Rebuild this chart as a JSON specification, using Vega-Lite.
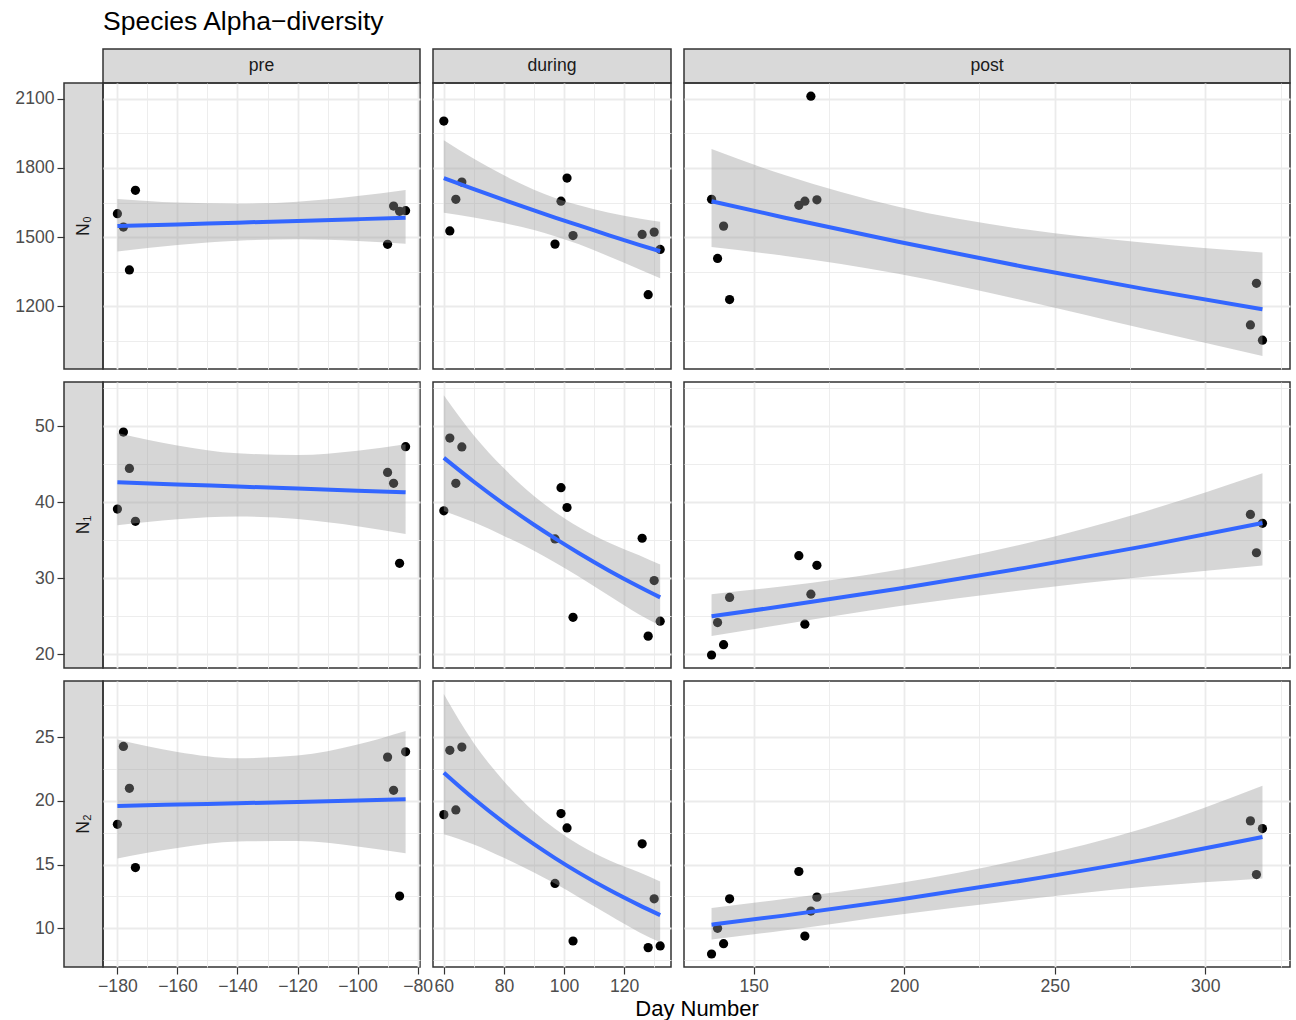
{
  "$schema": "https://vega.github.io/schema/vega-lite/v6.json",
  "padding": {"left": 14, "top": 9, "right": 5, "bottom": 5},
  "title": {"text": "Species Alpha−diversity", "anchor": "start", "frame": "group", "dx": 39, "offset": 11, "fontSize": 26.5, "fontWeight": "normal", "font": "Liberation Sans", "color": "#000000"},
  "config": {
    "font": "Liberation Sans",
    "view": {"stroke": "#333333", "strokeWidth": 1.5},
    "axis": {"labelFont": "Liberation Sans", "labelFontSize": 17.6, "labelColor": "#4d4d4d", "titleFont": "Liberation Sans", "titleFontSize": 22, "titleFontWeight": "normal", "titleColor": "#000000"}
  },
  "datasets": {
    "points": [
      {"period": "pre", "idx": "N0", "day": -180, "value": 1602}, {"period": "pre", "idx": "N0", "day": -178, "value": 1544}, {"period": "pre", "idx": "N0", "day": -176, "value": 1358}, {"period": "pre", "idx": "N0", "day": -174, "value": 1703},
      {"period": "pre", "idx": "N0", "day": -90, "value": 1469}, {"period": "pre", "idx": "N0", "day": -88, "value": 1635}, {"period": "pre", "idx": "N0", "day": -86, "value": 1612}, {"period": "pre", "idx": "N0", "day": -84, "value": 1615},
      {"period": "during", "idx": "N0", "day": 60, "value": 2003}, {"period": "during", "idx": "N0", "day": 62, "value": 1527}, {"period": "during", "idx": "N0", "day": 64, "value": 1664}, {"period": "during", "idx": "N0", "day": 66, "value": 1739},
      {"period": "during", "idx": "N0", "day": 97, "value": 1470}, {"period": "during", "idx": "N0", "day": 99, "value": 1656}, {"period": "during", "idx": "N0", "day": 101, "value": 1756}, {"period": "during", "idx": "N0", "day": 103, "value": 1507},
      {"period": "during", "idx": "N0", "day": 126, "value": 1512}, {"period": "during", "idx": "N0", "day": 128, "value": 1251}, {"period": "during", "idx": "N0", "day": 130, "value": 1522}, {"period": "during", "idx": "N0", "day": 132, "value": 1447},
      {"period": "post", "idx": "N0", "day": 136, "value": 1664}, {"period": "post", "idx": "N0", "day": 138, "value": 1408}, {"period": "post", "idx": "N0", "day": 140, "value": 1548}, {"period": "post", "idx": "N0", "day": 142, "value": 1230},
      {"period": "post", "idx": "N0", "day": 165, "value": 1638}, {"period": "post", "idx": "N0", "day": 167, "value": 1656}, {"period": "post", "idx": "N0", "day": 169, "value": 2111}, {"period": "post", "idx": "N0", "day": 171, "value": 1662},
      {"period": "post", "idx": "N0", "day": 315, "value": 1120}, {"period": "post", "idx": "N0", "day": 317, "value": 1300}, {"period": "post", "idx": "N0", "day": 319, "value": 1054},

      {"period": "pre", "idx": "N1", "day": -180, "value": 39.09}, {"period": "pre", "idx": "N1", "day": -178, "value": 49.22}, {"period": "pre", "idx": "N1", "day": -176, "value": 44.43}, {"period": "pre", "idx": "N1", "day": -174, "value": 37.48},
      {"period": "pre", "idx": "N1", "day": -90, "value": 43.91}, {"period": "pre", "idx": "N1", "day": -88, "value": 42.48}, {"period": "pre", "idx": "N1", "day": -86, "value": 31.96}, {"period": "pre", "idx": "N1", "day": -84, "value": 47.3},
      {"period": "during", "idx": "N1", "day": 60, "value": 38.87}, {"period": "during", "idx": "N1", "day": 62, "value": 48.43}, {"period": "during", "idx": "N1", "day": 64, "value": 42.48}, {"period": "during", "idx": "N1", "day": 66, "value": 47.26},
      {"period": "during", "idx": "N1", "day": 97, "value": 35.17}, {"period": "during", "idx": "N1", "day": 99, "value": 41.91}, {"period": "during", "idx": "N1", "day": 101, "value": 39.3}, {"period": "during", "idx": "N1", "day": 103, "value": 24.87},
      {"period": "during", "idx": "N1", "day": 126, "value": 35.26}, {"period": "during", "idx": "N1", "day": 128, "value": 22.39}, {"period": "during", "idx": "N1", "day": 130, "value": 29.7}, {"period": "during", "idx": "N1", "day": 132, "value": 24.35},
      {"period": "post", "idx": "N1", "day": 136, "value": 19.91}, {"period": "post", "idx": "N1", "day": 138, "value": 24.17}, {"period": "post", "idx": "N1", "day": 140, "value": 21.26}, {"period": "post", "idx": "N1", "day": 142, "value": 27.48},
      {"period": "post", "idx": "N1", "day": 165, "value": 32.96}, {"period": "post", "idx": "N1", "day": 167, "value": 23.96}, {"period": "post", "idx": "N1", "day": 169, "value": 27.91}, {"period": "post", "idx": "N1", "day": 171, "value": 31.7},
      {"period": "post", "idx": "N1", "day": 315, "value": 38.39}, {"period": "post", "idx": "N1", "day": 317, "value": 33.35}, {"period": "post", "idx": "N1", "day": 319, "value": 37.22},

      {"period": "pre", "idx": "N2", "day": -180, "value": 18.16}, {"period": "pre", "idx": "N2", "day": -178, "value": 24.27}, {"period": "pre", "idx": "N2", "day": -176, "value": 20.98}, {"period": "pre", "idx": "N2", "day": -174, "value": 14.77},
      {"period": "pre", "idx": "N2", "day": -90, "value": 23.43}, {"period": "pre", "idx": "N2", "day": -88, "value": 20.83}, {"period": "pre", "idx": "N2", "day": -86, "value": 12.53}, {"period": "pre", "idx": "N2", "day": -84, "value": 23.85},
      {"period": "during", "idx": "N2", "day": 60, "value": 18.92}, {"period": "during", "idx": "N2", "day": 62, "value": 23.96}, {"period": "during", "idx": "N2", "day": 64, "value": 19.29}, {"period": "during", "idx": "N2", "day": 66, "value": 24.22},
      {"period": "during", "idx": "N2", "day": 97, "value": 13.52}, {"period": "during", "idx": "N2", "day": 99, "value": 19.0}, {"period": "during", "idx": "N2", "day": 101, "value": 17.88}, {"period": "during", "idx": "N2", "day": 103, "value": 9.01},
      {"period": "during", "idx": "N2", "day": 126, "value": 16.63}, {"period": "during", "idx": "N2", "day": 128, "value": 8.49}, {"period": "during", "idx": "N2", "day": 130, "value": 12.32}, {"period": "during", "idx": "N2", "day": 132, "value": 8.62},
      {"period": "post", "idx": "N2", "day": 136, "value": 7.99}, {"period": "post", "idx": "N2", "day": 138, "value": 10.0}, {"period": "post", "idx": "N2", "day": 140, "value": 8.8}, {"period": "post", "idx": "N2", "day": 142, "value": 12.32},
      {"period": "post", "idx": "N2", "day": 165, "value": 14.46}, {"period": "post", "idx": "N2", "day": 167, "value": 9.4}, {"period": "post", "idx": "N2", "day": 169, "value": 11.36}, {"period": "post", "idx": "N2", "day": 171, "value": 12.45},
      {"period": "post", "idx": "N2", "day": 315, "value": 18.43}, {"period": "post", "idx": "N2", "day": 317, "value": 14.22}, {"period": "post", "idx": "N2", "day": 319, "value": 17.83}
    ],
    "smooth": [
      {"period": "pre", "idx": "N0", "day": -180, "fit": 1548, "lo": 1438, "hi": 1666}, {"period": "pre", "idx": "N0", "day": -160, "fit": 1555.5, "lo": 1466, "hi": 1650}, {"period": "pre", "idx": "N0", "day": -140, "fit": 1563, "lo": 1485, "hi": 1645},
      {"period": "pre", "idx": "N0", "day": -120, "fit": 1570.5, "lo": 1491, "hi": 1654}, {"period": "pre", "idx": "N0", "day": -100, "fit": 1578, "lo": 1484, "hi": 1678}, {"period": "pre", "idx": "N0", "day": -84, "fit": 1584, "lo": 1472, "hi": 1705},
      {"period": "during", "idx": "N0", "day": 60, "fit": 1756, "lo": 1606, "hi": 1920}, {"period": "during", "idx": "N0", "day": 70, "fit": 1708, "lo": 1585, "hi": 1840}, {"period": "during", "idx": "N0", "day": 80, "fit": 1661.5, "lo": 1561, "hi": 1768},
      {"period": "during", "idx": "N0", "day": 90, "fit": 1616, "lo": 1531, "hi": 1706}, {"period": "during", "idx": "N0", "day": 97, "fit": 1585, "lo": 1504, "hi": 1670}, {"period": "during", "idx": "N0", "day": 105, "fit": 1551, "lo": 1469, "hi": 1638},
      {"period": "during", "idx": "N0", "day": 115, "fit": 1508, "lo": 1416.5, "hi": 1606}, {"period": "during", "idx": "N0", "day": 125, "fit": 1467, "lo": 1361, "hi": 1581}, {"period": "during", "idx": "N0", "day": 132, "fit": 1439, "lo": 1322, "hi": 1567},
      {"period": "post", "idx": "N0", "day": 136, "fit": 1656, "lo": 1457, "hi": 1882}, {"period": "post", "idx": "N0", "day": 160, "fit": 1585.5, "lo": 1420, "hi": 1770}, {"period": "post", "idx": "N0", "day": 198, "fit": 1480, "lo": 1342, "hi": 1632},
      {"period": "post", "idx": "N0", "day": 240, "fit": 1371, "lo": 1225, "hi": 1534}, {"period": "post", "idx": "N0", "day": 280, "fit": 1275, "lo": 1102, "hi": 1476}, {"period": "post", "idx": "N0", "day": 319, "fit": 1188, "lo": 985, "hi": 1434},

      {"period": "pre", "idx": "N1", "day": -180, "fit": 42.61, "lo": 36.97, "hi": 49.11}, {"period": "pre", "idx": "N1", "day": -160, "fit": 42.33, "lo": 37.75, "hi": 47.46}, {"period": "pre", "idx": "N1", "day": -140, "fit": 42.06, "lo": 38.11, "hi": 46.42},
      {"period": "pre", "idx": "N1", "day": -120, "fit": 41.79, "lo": 37.79, "hi": 46.21}, {"period": "pre", "idx": "N1", "day": -100, "fit": 41.51, "lo": 36.84, "hi": 46.77}, {"period": "pre", "idx": "N1", "day": -84, "fit": 41.3, "lo": 35.83, "hi": 47.6},
      {"period": "during", "idx": "N1", "day": 60, "fit": 45.83, "lo": 38.85, "hi": 54.06}, {"period": "during", "idx": "N1", "day": 70, "fit": 42.69, "lo": 37.36, "hi": 48.78}, {"period": "during", "idx": "N1", "day": 80, "fit": 39.76, "lo": 35.57, "hi": 44.45},
      {"period": "during", "idx": "N1", "day": 90, "fit": 37.03, "lo": 33.6, "hi": 40.81}, {"period": "during", "idx": "N1", "day": 97, "fit": 35.24, "lo": 32.08, "hi": 38.71}, {"period": "during", "idx": "N1", "day": 105, "fit": 33.29, "lo": 30.19, "hi": 36.71},
      {"period": "during", "idx": "N1", "day": 115, "fit": 31.0, "lo": 27.71, "hi": 34.68}, {"period": "during", "idx": "N1", "day": 125, "fit": 28.88, "lo": 25.25, "hi": 33.03}, {"period": "during", "idx": "N1", "day": 132, "fit": 27.48, "lo": 23.75, "hi": 31.8},
      {"period": "post", "idx": "N1", "day": 136, "fit": 25.0, "lo": 22.4, "hi": 27.91}, {"period": "post", "idx": "N1", "day": 160, "fit": 26.34, "lo": 23.96, "hi": 28.95}, {"period": "post", "idx": "N1", "day": 198, "fit": 28.62, "lo": 26.31, "hi": 31.13},
      {"period": "post", "idx": "N1", "day": 240, "fit": 31.36, "lo": 28.47, "hi": 34.54}, {"period": "post", "idx": "N1", "day": 280, "fit": 34.22, "lo": 30.19, "hi": 38.79}, {"period": "post", "idx": "N1", "day": 319, "fit": 37.26, "lo": 31.69, "hi": 43.81},

      {"period": "pre", "idx": "N2", "day": -180, "fit": 19.6, "lo": 15.48, "hi": 24.82}, {"period": "pre", "idx": "N2", "day": -160, "fit": 19.71, "lo": 16.3, "hi": 23.84}, {"period": "pre", "idx": "N2", "day": -140, "fit": 19.81, "lo": 16.81, "hi": 23.34},
      {"period": "pre", "idx": "N2", "day": -120, "fit": 19.92, "lo": 16.85, "hi": 23.55}, {"period": "pre", "idx": "N2", "day": -100, "fit": 20.03, "lo": 16.43, "hi": 24.42}, {"period": "pre", "idx": "N2", "day": -84, "fit": 20.12, "lo": 15.89, "hi": 25.48},
      {"period": "during", "idx": "N2", "day": 60, "fit": 22.21, "lo": 17.38, "hi": 28.38}, {"period": "during", "idx": "N2", "day": 70, "fit": 20.16, "lo": 16.58, "hi": 24.52}, {"period": "during", "idx": "N2", "day": 80, "fit": 18.29, "lo": 15.53, "hi": 21.54},
      {"period": "during", "idx": "N2", "day": 90, "fit": 16.6, "lo": 14.39, "hi": 19.15}, {"period": "during", "idx": "N2", "day": 97, "fit": 15.51, "lo": 13.51, "hi": 17.81}, {"period": "during", "idx": "N2", "day": 105, "fit": 14.35, "lo": 12.43, "hi": 16.56},
      {"period": "during", "idx": "N2", "day": 115, "fit": 13.02, "lo": 11.04, "hi": 15.35}, {"period": "during", "idx": "N2", "day": 125, "fit": 11.82, "lo": 9.7, "hi": 14.4}, {"period": "during", "idx": "N2", "day": 132, "fit": 11.04, "lo": 8.91, "hi": 13.67},
      {"period": "post", "idx": "N2", "day": 136, "fit": 10.29, "lo": 9.13, "hi": 11.6}, {"period": "post", "idx": "N2", "day": 160, "fit": 11.0, "lo": 9.83, "hi": 12.31}, {"period": "post", "idx": "N2", "day": 198, "fit": 12.24, "lo": 11.07, "hi": 13.53},
      {"period": "post", "idx": "N2", "day": 240, "fit": 13.77, "lo": 12.27, "hi": 15.45}, {"period": "post", "idx": "N2", "day": 280, "fit": 15.39, "lo": 13.26, "hi": 17.87}, {"period": "post", "idx": "N2", "day": 319, "fit": 17.17, "lo": 13.92, "hi": 21.18}
    ]
  },
  "columns": 6,
  "spacing": 0,
  "bounds": "flush",
  "align": "each",
  "concat": [
    {"width": 39, "height": 34, "data": {"values": [{"k": 0}]}, "mark": {"type": "point", "opacity": 0}, "view": {"stroke": null}},
    {"width": 317, "height": 34, "view": {"fill": "#d9d9d9", "stroke": "#333333", "strokeWidth": 1.5}, "data": {"values": [{"label": "pre"}]}, "mark": {"type": "text", "fontSize": 17.6, "color": "#1a1a1a", "font": "Liberation Sans"}, "encoding": {"text": {"field": "label"}}},
    {"width": 13, "height": 1, "data": {"values": [{"k": 0}]}, "mark": {"type": "point", "opacity": 0}, "view": {"stroke": null}},
    {"width": 238, "height": 34, "view": {"fill": "#d9d9d9", "stroke": "#333333", "strokeWidth": 1.5}, "data": {"values": [{"label": "during"}]}, "mark": {"type": "text", "fontSize": 17.6, "color": "#1a1a1a", "font": "Liberation Sans"}, "encoding": {"text": {"field": "label"}}},
    {"width": 13, "height": 1, "data": {"values": [{"k": 0}]}, "mark": {"type": "point", "opacity": 0}, "view": {"stroke": null}},
    {"width": 606, "height": 34, "view": {"fill": "#d9d9d9", "stroke": "#333333", "strokeWidth": 1.5}, "data": {"values": [{"label": "post"}]}, "mark": {"type": "text", "fontSize": 17.6, "color": "#1a1a1a", "font": "Liberation Sans"}, "encoding": {"text": {"field": "label"}}},

    {"width": 39, "height": 286, "view": {"fill": "#d9d9d9", "stroke": "#333333", "strokeWidth": 1.5}, "layer": [
      {"data": {"name": "points"}, "transform": [{"filter": "datum.idx == 'N0'"}], "mark": {"type": "point", "opacity": 0}, "encoding": {"y": {"field": "value", "type": "quantitative", "scale": {"domain": [929, 2168], "nice": false, "zero": false}, "axis": {"values": [1200, 1500, 1800, 2100], "format": "d", "grid": false, "domain": false, "ticks": true, "tickSize": 7, "tickWidth": 1.2, "tickColor": "#333333", "labelPadding": 3, "title": null}}}},
      {"data": {"values": [{"label": "N₀"}]}, "mark": {"type": "text", "angle": 270, "fontSize": 17.6, "color": "#1a1a1a", "font": "Liberation Sans"}, "encoding": {"text": {"field": "label"}}}
    ]},
    {"width": 317, "height": 286, "resolve": {"axis": {"x": "independent", "y": "independent"}}, "layer": [
      {"data": {"name": "points"}, "transform": [{"filter": "datum.period == 'pre' && datum.idx == 'N0'"}], "mark": {"type": "circle", "size": 85, "fill": "#000000", "opacity": 1},
       "encoding": {"x": {"field": "day", "type": "quantitative", "scale": {"domain": [-184.8, -79.2], "nice": false, "zero": false}, "axis": {"orient": "bottom", "values": [-180, -160, -140, -120, -100, -80], "grid": true, "gridColor": "#ebebeb", "gridWidth": 1.8, "labels": false, "ticks": false, "domain": false, "title": null}},
                    "y": {"field": "value", "type": "quantitative", "scale": {"domain": [929, 2168], "nice": false, "zero": false}, "axis": {"orient": "left", "values": [1200, 1500, 1800, 2100], "grid": true, "gridColor": "#ebebeb", "gridWidth": 1.8, "labels": false, "ticks": false, "domain": false, "title": null}}}},
      {"data": {"name": "smooth"}, "transform": [{"filter": "datum.period == 'pre' && datum.idx == 'N0'"}], "mark": {"type": "area", "fill": "#999999", "opacity": 0.4, "interpolate": "monotone"},
       "encoding": {"x": {"field": "day", "type": "quantitative", "scale": {"domain": [-184.8, -79.2], "nice": false, "zero": false}, "axis": {"orient": "top", "values": [-170, -150, -130, -110, -90], "grid": true, "gridColor": "#ebebeb", "gridWidth": 0.9, "labels": false, "ticks": false, "domain": false, "title": null}},
                    "y": {"field": "lo", "type": "quantitative", "scale": {"domain": [929, 2168], "nice": false, "zero": false}, "axis": {"orient": "right", "values": [1050, 1350, 1650, 1950], "grid": true, "gridColor": "#ebebeb", "gridWidth": 0.9, "labels": false, "ticks": false, "domain": false, "title": null}}, "y2": {"field": "hi"}}},
      {"data": {"name": "smooth"}, "transform": [{"filter": "datum.period == 'pre' && datum.idx == 'N0'"}], "mark": {"type": "line", "stroke": "#3366FF", "strokeWidth": 4, "interpolate": "monotone"},
       "encoding": {"x": {"field": "day", "type": "quantitative", "scale": {"domain": [-184.8, -79.2], "nice": false, "zero": false}, "axis": null}, "y": {"field": "fit", "type": "quantitative", "scale": {"domain": [929, 2168], "nice": false, "zero": false}, "axis": null}}}
    ]},
    {"width": 13, "height": 1, "data": {"values": [{"k": 0}]}, "mark": {"type": "point", "opacity": 0}, "view": {"stroke": null}},
    {"width": 238, "height": 286, "resolve": {"axis": {"x": "independent", "y": "independent"}}, "layer": [
      {"data": {"name": "points"}, "transform": [{"filter": "datum.period == 'during' && datum.idx == 'N0'"}], "mark": {"type": "circle", "size": 85, "fill": "#000000", "opacity": 1},
       "encoding": {"x": {"field": "day", "type": "quantitative", "scale": {"domain": [56.4, 135.6], "nice": false, "zero": false}, "axis": {"orient": "bottom", "values": [60, 80, 100, 120], "grid": true, "gridColor": "#ebebeb", "gridWidth": 1.8, "labels": false, "ticks": false, "domain": false, "title": null}},
                    "y": {"field": "value", "type": "quantitative", "scale": {"domain": [929, 2168], "nice": false, "zero": false}, "axis": {"orient": "left", "values": [1200, 1500, 1800, 2100], "grid": true, "gridColor": "#ebebeb", "gridWidth": 1.8, "labels": false, "ticks": false, "domain": false, "title": null}}}},
      {"data": {"name": "smooth"}, "transform": [{"filter": "datum.period == 'during' && datum.idx == 'N0'"}], "mark": {"type": "area", "fill": "#999999", "opacity": 0.4, "interpolate": "monotone"},
       "encoding": {"x": {"field": "day", "type": "quantitative", "scale": {"domain": [56.4, 135.6], "nice": false, "zero": false}, "axis": {"orient": "top", "values": [70, 90, 110, 130], "grid": true, "gridColor": "#ebebeb", "gridWidth": 0.9, "labels": false, "ticks": false, "domain": false, "title": null}},
                    "y": {"field": "lo", "type": "quantitative", "scale": {"domain": [929, 2168], "nice": false, "zero": false}, "axis": {"orient": "right", "values": [1050, 1350, 1650, 1950], "grid": true, "gridColor": "#ebebeb", "gridWidth": 0.9, "labels": false, "ticks": false, "domain": false, "title": null}}, "y2": {"field": "hi"}}},
      {"data": {"name": "smooth"}, "transform": [{"filter": "datum.period == 'during' && datum.idx == 'N0'"}], "mark": {"type": "line", "stroke": "#3366FF", "strokeWidth": 4, "interpolate": "monotone"},
       "encoding": {"x": {"field": "day", "type": "quantitative", "scale": {"domain": [56.4, 135.6], "nice": false, "zero": false}, "axis": null}, "y": {"field": "fit", "type": "quantitative", "scale": {"domain": [929, 2168], "nice": false, "zero": false}, "axis": null}}}
    ]},
    {"width": 13, "height": 1, "data": {"values": [{"k": 0}]}, "mark": {"type": "point", "opacity": 0}, "view": {"stroke": null}},
    {"width": 606, "height": 286, "resolve": {"axis": {"x": "independent", "y": "independent"}}, "layer": [
      {"data": {"name": "points"}, "transform": [{"filter": "datum.period == 'post' && datum.idx == 'N0'"}], "mark": {"type": "circle", "size": 85, "fill": "#000000", "opacity": 1},
       "encoding": {"x": {"field": "day", "type": "quantitative", "scale": {"domain": [126.85, 328.15], "nice": false, "zero": false}, "axis": {"orient": "bottom", "values": [150, 200, 250, 300], "grid": true, "gridColor": "#ebebeb", "gridWidth": 1.8, "labels": false, "ticks": false, "domain": false, "title": null}},
                    "y": {"field": "value", "type": "quantitative", "scale": {"domain": [929, 2168], "nice": false, "zero": false}, "axis": {"orient": "left", "values": [1200, 1500, 1800, 2100], "grid": true, "gridColor": "#ebebeb", "gridWidth": 1.8, "labels": false, "ticks": false, "domain": false, "title": null}}}},
      {"data": {"name": "smooth"}, "transform": [{"filter": "datum.period == 'post' && datum.idx == 'N0'"}], "mark": {"type": "area", "fill": "#999999", "opacity": 0.4, "interpolate": "monotone"},
       "encoding": {"x": {"field": "day", "type": "quantitative", "scale": {"domain": [126.85, 328.15], "nice": false, "zero": false}, "axis": {"orient": "top", "values": [175, 225, 275, 325], "grid": true, "gridColor": "#ebebeb", "gridWidth": 0.9, "labels": false, "ticks": false, "domain": false, "title": null}},
                    "y": {"field": "lo", "type": "quantitative", "scale": {"domain": [929, 2168], "nice": false, "zero": false}, "axis": {"orient": "right", "values": [1050, 1350, 1650, 1950], "grid": true, "gridColor": "#ebebeb", "gridWidth": 0.9, "labels": false, "ticks": false, "domain": false, "title": null}}, "y2": {"field": "hi"}}},
      {"data": {"name": "smooth"}, "transform": [{"filter": "datum.period == 'post' && datum.idx == 'N0'"}], "mark": {"type": "line", "stroke": "#3366FF", "strokeWidth": 4, "interpolate": "monotone"},
       "encoding": {"x": {"field": "day", "type": "quantitative", "scale": {"domain": [126.85, 328.15], "nice": false, "zero": false}, "axis": null}, "y": {"field": "fit", "type": "quantitative", "scale": {"domain": [929, 2168], "nice": false, "zero": false}, "axis": null}}}
    ]},

    {"width": 1, "height": 13, "data": {"values": [{"k": 0}]}, "mark": {"type": "point", "opacity": 0}, "view": {"stroke": null}},
    {"width": 1, "height": 13, "data": {"values": [{"k": 0}]}, "mark": {"type": "point", "opacity": 0}, "view": {"stroke": null}},
    {"width": 1, "height": 13, "data": {"values": [{"k": 0}]}, "mark": {"type": "point", "opacity": 0}, "view": {"stroke": null}},
    {"width": 1, "height": 13, "data": {"values": [{"k": 0}]}, "mark": {"type": "point", "opacity": 0}, "view": {"stroke": null}},
    {"width": 1, "height": 13, "data": {"values": [{"k": 0}]}, "mark": {"type": "point", "opacity": 0}, "view": {"stroke": null}},
    {"width": 1, "height": 13, "data": {"values": [{"k": 0}]}, "mark": {"type": "point", "opacity": 0}, "view": {"stroke": null}},

    {"width": 39, "height": 286, "view": {"fill": "#d9d9d9", "stroke": "#333333", "strokeWidth": 1.5}, "layer": [
      {"data": {"name": "points"}, "transform": [{"filter": "datum.idx == 'N1'"}], "mark": {"type": "point", "opacity": 0}, "encoding": {"y": {"field": "value", "type": "quantitative", "scale": {"domain": [18.2, 55.8], "nice": false, "zero": false}, "axis": {"values": [20, 30, 40, 50], "format": "d", "grid": false, "domain": false, "ticks": true, "tickSize": 7, "tickWidth": 1.2, "tickColor": "#333333", "labelPadding": 3, "title": null}}}},
      {"data": {"values": [{"label": "N₁"}]}, "mark": {"type": "text", "angle": 270, "fontSize": 17.6, "color": "#1a1a1a", "font": "Liberation Sans"}, "encoding": {"text": {"field": "label"}}}
    ]},
    {"width": 317, "height": 286, "resolve": {"axis": {"x": "independent", "y": "independent"}}, "layer": [
      {"data": {"name": "points"}, "transform": [{"filter": "datum.period == 'pre' && datum.idx == 'N1'"}], "mark": {"type": "circle", "size": 85, "fill": "#000000", "opacity": 1},
       "encoding": {"x": {"field": "day", "type": "quantitative", "scale": {"domain": [-184.8, -79.2], "nice": false, "zero": false}, "axis": {"orient": "bottom", "values": [-180, -160, -140, -120, -100, -80], "grid": true, "gridColor": "#ebebeb", "gridWidth": 1.8, "labels": false, "ticks": false, "domain": false, "title": null}},
                    "y": {"field": "value", "type": "quantitative", "scale": {"domain": [18.2, 55.8], "nice": false, "zero": false}, "axis": {"orient": "left", "values": [20, 30, 40, 50], "grid": true, "gridColor": "#ebebeb", "gridWidth": 1.8, "labels": false, "ticks": false, "domain": false, "title": null}}}},
      {"data": {"name": "smooth"}, "transform": [{"filter": "datum.period == 'pre' && datum.idx == 'N1'"}], "mark": {"type": "area", "fill": "#999999", "opacity": 0.4, "interpolate": "monotone"},
       "encoding": {"x": {"field": "day", "type": "quantitative", "scale": {"domain": [-184.8, -79.2], "nice": false, "zero": false}, "axis": {"orient": "top", "values": [-170, -150, -130, -110, -90], "grid": true, "gridColor": "#ebebeb", "gridWidth": 0.9, "labels": false, "ticks": false, "domain": false, "title": null}},
                    "y": {"field": "lo", "type": "quantitative", "scale": {"domain": [18.2, 55.8], "nice": false, "zero": false}, "axis": {"orient": "right", "values": [25, 35, 45, 55], "grid": true, "gridColor": "#ebebeb", "gridWidth": 0.9, "labels": false, "ticks": false, "domain": false, "title": null}}, "y2": {"field": "hi"}}},
      {"data": {"name": "smooth"}, "transform": [{"filter": "datum.period == 'pre' && datum.idx == 'N1'"}], "mark": {"type": "line", "stroke": "#3366FF", "strokeWidth": 4, "interpolate": "monotone"},
       "encoding": {"x": {"field": "day", "type": "quantitative", "scale": {"domain": [-184.8, -79.2], "nice": false, "zero": false}, "axis": null}, "y": {"field": "fit", "type": "quantitative", "scale": {"domain": [18.2, 55.8], "nice": false, "zero": false}, "axis": null}}}
    ]},
    {"width": 13, "height": 1, "data": {"values": [{"k": 0}]}, "mark": {"type": "point", "opacity": 0}, "view": {"stroke": null}},
    {"width": 238, "height": 286, "resolve": {"axis": {"x": "independent", "y": "independent"}}, "layer": [
      {"data": {"name": "points"}, "transform": [{"filter": "datum.period == 'during' && datum.idx == 'N1'"}], "mark": {"type": "circle", "size": 85, "fill": "#000000", "opacity": 1},
       "encoding": {"x": {"field": "day", "type": "quantitative", "scale": {"domain": [56.4, 135.6], "nice": false, "zero": false}, "axis": {"orient": "bottom", "values": [60, 80, 100, 120], "grid": true, "gridColor": "#ebebeb", "gridWidth": 1.8, "labels": false, "ticks": false, "domain": false, "title": null}},
                    "y": {"field": "value", "type": "quantitative", "scale": {"domain": [18.2, 55.8], "nice": false, "zero": false}, "axis": {"orient": "left", "values": [20, 30, 40, 50], "grid": true, "gridColor": "#ebebeb", "gridWidth": 1.8, "labels": false, "ticks": false, "domain": false, "title": null}}}},
      {"data": {"name": "smooth"}, "transform": [{"filter": "datum.period == 'during' && datum.idx == 'N1'"}], "mark": {"type": "area", "fill": "#999999", "opacity": 0.4, "interpolate": "monotone"},
       "encoding": {"x": {"field": "day", "type": "quantitative", "scale": {"domain": [56.4, 135.6], "nice": false, "zero": false}, "axis": {"orient": "top", "values": [70, 90, 110, 130], "grid": true, "gridColor": "#ebebeb", "gridWidth": 0.9, "labels": false, "ticks": false, "domain": false, "title": null}},
                    "y": {"field": "lo", "type": "quantitative", "scale": {"domain": [18.2, 55.8], "nice": false, "zero": false}, "axis": {"orient": "right", "values": [25, 35, 45, 55], "grid": true, "gridColor": "#ebebeb", "gridWidth": 0.9, "labels": false, "ticks": false, "domain": false, "title": null}}, "y2": {"field": "hi"}}},
      {"data": {"name": "smooth"}, "transform": [{"filter": "datum.period == 'during' && datum.idx == 'N1'"}], "mark": {"type": "line", "stroke": "#3366FF", "strokeWidth": 4, "interpolate": "monotone"},
       "encoding": {"x": {"field": "day", "type": "quantitative", "scale": {"domain": [56.4, 135.6], "nice": false, "zero": false}, "axis": null}, "y": {"field": "fit", "type": "quantitative", "scale": {"domain": [18.2, 55.8], "nice": false, "zero": false}, "axis": null}}}
    ]},
    {"width": 13, "height": 1, "data": {"values": [{"k": 0}]}, "mark": {"type": "point", "opacity": 0}, "view": {"stroke": null}},
    {"width": 606, "height": 286, "resolve": {"axis": {"x": "independent", "y": "independent"}}, "layer": [
      {"data": {"name": "points"}, "transform": [{"filter": "datum.period == 'post' && datum.idx == 'N1'"}], "mark": {"type": "circle", "size": 85, "fill": "#000000", "opacity": 1},
       "encoding": {"x": {"field": "day", "type": "quantitative", "scale": {"domain": [126.85, 328.15], "nice": false, "zero": false}, "axis": {"orient": "bottom", "values": [150, 200, 250, 300], "grid": true, "gridColor": "#ebebeb", "gridWidth": 1.8, "labels": false, "ticks": false, "domain": false, "title": null}},
                    "y": {"field": "value", "type": "quantitative", "scale": {"domain": [18.2, 55.8], "nice": false, "zero": false}, "axis": {"orient": "left", "values": [20, 30, 40, 50], "grid": true, "gridColor": "#ebebeb", "gridWidth": 1.8, "labels": false, "ticks": false, "domain": false, "title": null}}}},
      {"data": {"name": "smooth"}, "transform": [{"filter": "datum.period == 'post' && datum.idx == 'N1'"}], "mark": {"type": "area", "fill": "#999999", "opacity": 0.4, "interpolate": "monotone"},
       "encoding": {"x": {"field": "day", "type": "quantitative", "scale": {"domain": [126.85, 328.15], "nice": false, "zero": false}, "axis": {"orient": "top", "values": [175, 225, 275, 325], "grid": true, "gridColor": "#ebebeb", "gridWidth": 0.9, "labels": false, "ticks": false, "domain": false, "title": null}},
                    "y": {"field": "lo", "type": "quantitative", "scale": {"domain": [18.2, 55.8], "nice": false, "zero": false}, "axis": {"orient": "right", "values": [25, 35, 45, 55], "grid": true, "gridColor": "#ebebeb", "gridWidth": 0.9, "labels": false, "ticks": false, "domain": false, "title": null}}, "y2": {"field": "hi"}}},
      {"data": {"name": "smooth"}, "transform": [{"filter": "datum.period == 'post' && datum.idx == 'N1'"}], "mark": {"type": "line", "stroke": "#3366FF", "strokeWidth": 4, "interpolate": "monotone"},
       "encoding": {"x": {"field": "day", "type": "quantitative", "scale": {"domain": [126.85, 328.15], "nice": false, "zero": false}, "axis": null}, "y": {"field": "fit", "type": "quantitative", "scale": {"domain": [18.2, 55.8], "nice": false, "zero": false}, "axis": null}}}
    ]},

    {"width": 1, "height": 13, "data": {"values": [{"k": 0}]}, "mark": {"type": "point", "opacity": 0}, "view": {"stroke": null}},
    {"width": 1, "height": 13, "data": {"values": [{"k": 0}]}, "mark": {"type": "point", "opacity": 0}, "view": {"stroke": null}},
    {"width": 1, "height": 13, "data": {"values": [{"k": 0}]}, "mark": {"type": "point", "opacity": 0}, "view": {"stroke": null}},
    {"width": 1, "height": 13, "data": {"values": [{"k": 0}]}, "mark": {"type": "point", "opacity": 0}, "view": {"stroke": null}},
    {"width": 1, "height": 13, "data": {"values": [{"k": 0}]}, "mark": {"type": "point", "opacity": 0}, "view": {"stroke": null}},
    {"width": 1, "height": 13, "data": {"values": [{"k": 0}]}, "mark": {"type": "point", "opacity": 0}, "view": {"stroke": null}},

    {"width": 39, "height": 286, "view": {"fill": "#d9d9d9", "stroke": "#333333", "strokeWidth": 1.5}, "layer": [
      {"data": {"name": "points"}, "transform": [{"filter": "datum.idx == 'N2'"}], "mark": {"type": "point", "opacity": 0}, "encoding": {"y": {"field": "value", "type": "quantitative", "scale": {"domain": [6.97, 29.4], "nice": false, "zero": false}, "axis": {"values": [10, 15, 20, 25], "format": "d", "grid": false, "domain": false, "ticks": true, "tickSize": 7, "tickWidth": 1.2, "tickColor": "#333333", "labelPadding": 3, "title": null}}}},
      {"data": {"values": [{"label": "N₂"}]}, "mark": {"type": "text", "angle": 270, "fontSize": 17.6, "color": "#1a1a1a", "font": "Liberation Sans"}, "encoding": {"text": {"field": "label"}}}
    ]},
    {"width": 317, "height": 286, "resolve": {"axis": {"x": "independent", "y": "independent"}}, "layer": [
      {"data": {"name": "points"}, "transform": [{"filter": "datum.period == 'pre' && datum.idx == 'N2'"}], "mark": {"type": "circle", "size": 85, "fill": "#000000", "opacity": 1},
       "encoding": {"x": {"field": "day", "type": "quantitative", "scale": {"domain": [-184.8, -79.2], "nice": false, "zero": false}, "axis": {"orient": "bottom", "values": [-180, -160, -140, -120, -100, -80], "format": "d", "grid": true, "gridColor": "#ebebeb", "gridWidth": 1.8, "domain": false, "ticks": true, "tickSize": 7, "tickWidth": 1.2, "tickColor": "#333333", "labelFlush": false, "labelOverlap": false, "labelPadding": 3, "title": null}},
                    "y": {"field": "value", "type": "quantitative", "scale": {"domain": [6.97, 29.4], "nice": false, "zero": false}, "axis": {"orient": "left", "values": [10, 15, 20, 25], "grid": true, "gridColor": "#ebebeb", "gridWidth": 1.8, "labels": false, "ticks": false, "domain": false, "title": null}}}},
      {"data": {"name": "smooth"}, "transform": [{"filter": "datum.period == 'pre' && datum.idx == 'N2'"}], "mark": {"type": "area", "fill": "#999999", "opacity": 0.4, "interpolate": "monotone"},
       "encoding": {"x": {"field": "day", "type": "quantitative", "scale": {"domain": [-184.8, -79.2], "nice": false, "zero": false}, "axis": {"orient": "top", "values": [-170, -150, -130, -110, -90], "grid": true, "gridColor": "#ebebeb", "gridWidth": 0.9, "labels": false, "ticks": false, "domain": false, "title": null}},
                    "y": {"field": "lo", "type": "quantitative", "scale": {"domain": [6.97, 29.4], "nice": false, "zero": false}, "axis": {"orient": "right", "values": [7.5, 12.5, 17.5, 22.5, 27.5], "grid": true, "gridColor": "#ebebeb", "gridWidth": 0.9, "labels": false, "ticks": false, "domain": false, "title": null}}, "y2": {"field": "hi"}}},
      {"data": {"name": "smooth"}, "transform": [{"filter": "datum.period == 'pre' && datum.idx == 'N2'"}], "mark": {"type": "line", "stroke": "#3366FF", "strokeWidth": 4, "interpolate": "monotone"},
       "encoding": {"x": {"field": "day", "type": "quantitative", "scale": {"domain": [-184.8, -79.2], "nice": false, "zero": false}, "axis": null}, "y": {"field": "fit", "type": "quantitative", "scale": {"domain": [6.97, 29.4], "nice": false, "zero": false}, "axis": null}}}
    ]},
    {"width": 13, "height": 1, "data": {"values": [{"k": 0}]}, "mark": {"type": "point", "opacity": 0}, "view": {"stroke": null}},
    {"width": 238, "height": 286, "resolve": {"axis": {"x": "independent", "y": "independent"}}, "layer": [
      {"data": {"name": "points"}, "transform": [{"filter": "datum.period == 'during' && datum.idx == 'N2'"}], "mark": {"type": "circle", "size": 85, "fill": "#000000", "opacity": 1},
       "encoding": {"x": {"field": "day", "type": "quantitative", "scale": {"domain": [56.4, 135.6], "nice": false, "zero": false}, "axis": {"orient": "bottom", "values": [60, 80, 100, 120], "format": "d", "grid": true, "gridColor": "#ebebeb", "gridWidth": 1.8, "domain": false, "ticks": true, "tickSize": 7, "tickWidth": 1.2, "tickColor": "#333333", "labelFlush": false, "labelOverlap": false, "labelPadding": 3, "title": "Day Number", "titleX": 263.5, "titleAlign": "center", "titlePadding": 4}},
                    "y": {"field": "value", "type": "quantitative", "scale": {"domain": [6.97, 29.4], "nice": false, "zero": false}, "axis": {"orient": "left", "values": [10, 15, 20, 25], "grid": true, "gridColor": "#ebebeb", "gridWidth": 1.8, "labels": false, "ticks": false, "domain": false, "title": null}}}},
      {"data": {"name": "smooth"}, "transform": [{"filter": "datum.period == 'during' && datum.idx == 'N2'"}], "mark": {"type": "area", "fill": "#999999", "opacity": 0.4, "interpolate": "monotone"},
       "encoding": {"x": {"field": "day", "type": "quantitative", "scale": {"domain": [56.4, 135.6], "nice": false, "zero": false}, "axis": {"orient": "top", "values": [70, 90, 110, 130], "grid": true, "gridColor": "#ebebeb", "gridWidth": 0.9, "labels": false, "ticks": false, "domain": false, "title": null}},
                    "y": {"field": "lo", "type": "quantitative", "scale": {"domain": [6.97, 29.4], "nice": false, "zero": false}, "axis": {"orient": "right", "values": [7.5, 12.5, 17.5, 22.5, 27.5], "grid": true, "gridColor": "#ebebeb", "gridWidth": 0.9, "labels": false, "ticks": false, "domain": false, "title": null}}, "y2": {"field": "hi"}}},
      {"data": {"name": "smooth"}, "transform": [{"filter": "datum.period == 'during' && datum.idx == 'N2'"}], "mark": {"type": "line", "stroke": "#3366FF", "strokeWidth": 4, "interpolate": "monotone"},
       "encoding": {"x": {"field": "day", "type": "quantitative", "scale": {"domain": [56.4, 135.6], "nice": false, "zero": false}, "axis": null}, "y": {"field": "fit", "type": "quantitative", "scale": {"domain": [6.97, 29.4], "nice": false, "zero": false}, "axis": null}}}
    ]},
    {"width": 13, "height": 1, "data": {"values": [{"k": 0}]}, "mark": {"type": "point", "opacity": 0}, "view": {"stroke": null}},
    {"width": 606, "height": 286, "resolve": {"axis": {"x": "independent", "y": "independent"}}, "layer": [
      {"data": {"name": "points"}, "transform": [{"filter": "datum.period == 'post' && datum.idx == 'N2'"}], "mark": {"type": "circle", "size": 85, "fill": "#000000", "opacity": 1},
       "encoding": {"x": {"field": "day", "type": "quantitative", "scale": {"domain": [126.85, 328.15], "nice": false, "zero": false}, "axis": {"orient": "bottom", "values": [150, 200, 250, 300], "format": "d", "grid": true, "gridColor": "#ebebeb", "gridWidth": 1.8, "domain": false, "ticks": true, "tickSize": 7, "tickWidth": 1.2, "tickColor": "#333333", "labelFlush": false, "labelOverlap": false, "labelPadding": 3, "title": null}},
                    "y": {"field": "value", "type": "quantitative", "scale": {"domain": [6.97, 29.4], "nice": false, "zero": false}, "axis": {"orient": "left", "values": [10, 15, 20, 25], "grid": true, "gridColor": "#ebebeb", "gridWidth": 1.8, "labels": false, "ticks": false, "domain": false, "title": null}}}},
      {"data": {"name": "smooth"}, "transform": [{"filter": "datum.period == 'post' && datum.idx == 'N2'"}], "mark": {"type": "area", "fill": "#999999", "opacity": 0.4, "interpolate": "monotone"},
       "encoding": {"x": {"field": "day", "type": "quantitative", "scale": {"domain": [126.85, 328.15], "nice": false, "zero": false}, "axis": {"orient": "top", "values": [175, 225, 275, 325], "grid": true, "gridColor": "#ebebeb", "gridWidth": 0.9, "labels": false, "ticks": false, "domain": false, "title": null}},
                    "y": {"field": "lo", "type": "quantitative", "scale": {"domain": [6.97, 29.4], "nice": false, "zero": false}, "axis": {"orient": "right", "values": [7.5, 12.5, 17.5, 22.5, 27.5], "grid": true, "gridColor": "#ebebeb", "gridWidth": 0.9, "labels": false, "ticks": false, "domain": false, "title": null}}, "y2": {"field": "hi"}}},
      {"data": {"name": "smooth"}, "transform": [{"filter": "datum.period == 'post' && datum.idx == 'N2'"}], "mark": {"type": "line", "stroke": "#3366FF", "strokeWidth": 4, "interpolate": "monotone"},
       "encoding": {"x": {"field": "day", "type": "quantitative", "scale": {"domain": [126.85, 328.15], "nice": false, "zero": false}, "axis": null}, "y": {"field": "fit", "type": "quantitative", "scale": {"domain": [6.97, 29.4], "nice": false, "zero": false}, "axis": null}}}
    ]}
  ]
}
